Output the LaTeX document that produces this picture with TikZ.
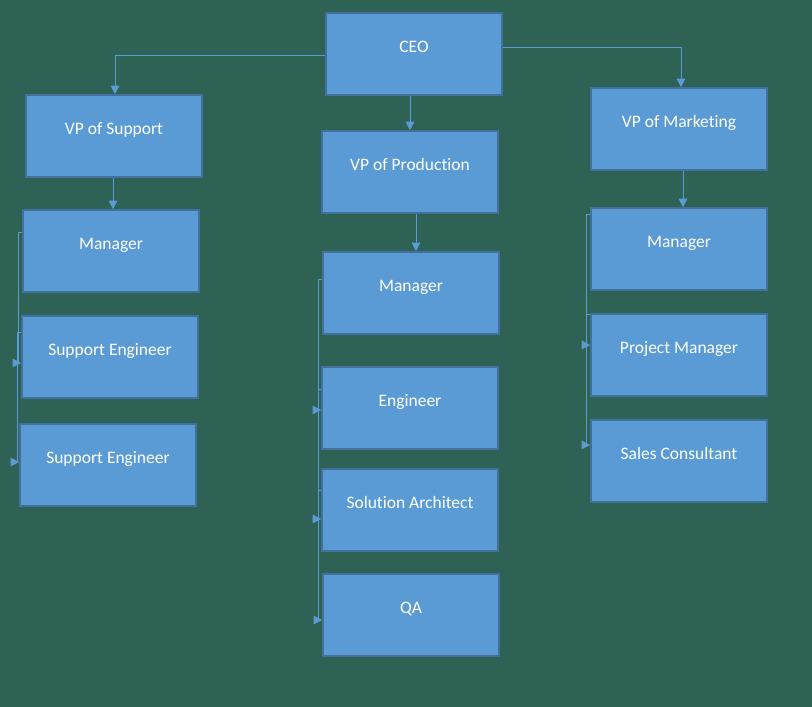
\documentclass[tikz,border=0pt]{standalone}
\usepackage{fontspec}
\setmainfont[Ligatures=NoCommon]{Carlito}
\usetikzlibrary{arrows.meta}
\definecolor{bg}{RGB}{46,98,84}
\definecolor{boxfill}{RGB}{91,155,213}
\definecolor{boxline}{RGB}{65,113,156}
\definecolor{conncol}{RGB}{91,155,213}
\tikzset{
  orgbox/.style={draw=boxline, line width=1.6pt, fill=boxfill, minimum width=176pt, minimum height=82pt, inner sep=0pt},
  lbl/.style={anchor=base, text=white, font=\fontsize{17.5}{20}\selectfont, inner sep=0pt},
  conn/.style={draw=conncol, line width=1pt, -{Triangle[length=8.5pt,width=8.5pt]}},
}
\newcommand{\boxlabel}[2]{\node[lbl] at ([yshift=-40.5pt]#1.north) {#2};}
\begin{document}
\begin{tikzpicture}[x=1pt,y=-1pt]
\fill[bg] (0,0) rectangle (812,707);
\useasboundingbox (0,0) rectangle (812,707);

\node[orgbox] (ceo) at (414,54) {};
\node[orgbox] (vps) at (114,136) {};
\node[orgbox] (vpp) at (410,172) {};
\node[orgbox] (vpm) at (679,129) {};
\node[orgbox] (lm)  at (111,251) {};
\node[orgbox] (se1) at (110,357) {};
\node[orgbox] (se2) at (108,465) {};
\node[orgbox] (mm)  at (411,293) {};
\node[orgbox] (en)  at (410,408) {};
\node[orgbox] (sa)  at (410,510) {};
\node[orgbox] (qa)  at (411,615) {};
\node[orgbox] (rm)  at (679,249) {};
\node[orgbox] (pm)  at (679,355) {};
\node[orgbox] (sc)  at (679,461) {};

\boxlabel{ceo}{CEO}
\boxlabel{vps}{VP of Support}
\boxlabel{vpp}{VP of Production}
\boxlabel{vpm}{VP of Marketing}
\boxlabel{lm}{Manager}
\boxlabel{se1}{Support Engineer}
\boxlabel{se2}{Support Engineer}
\boxlabel{mm}{Manager}
\boxlabel{en}{Engineer}
\boxlabel{sa}{Solution Architect}
\boxlabel{qa}{QA}
\boxlabel{rm}{Manager}
\boxlabel{pm}{Project Manager}
\boxlabel{sc}{Sales Consultant}

% top level
\draw[conn] ([yshift=-1pt]ceo.west) -| ([xshift=1pt]vps.north);
\draw[conn] ([yshift=7pt]ceo.east) -| ([xshift=2pt]vpm.north);
\draw[conn] (vpp.north |- ceo.south) -- (vpp.north);
% VP to managers
\draw[conn] ([xshift=-1pt]vps.south) -- ([xshift=-1pt]vps.south |- lm.north);
\draw[conn] ([xshift=6pt]vpp.south) -- ([xshift=6pt]vpp.south |- mm.north);
\draw[conn] ([xshift=4pt]vpm.south) -- ([xshift=4pt]vpm.south |- rm.north);

% left column
\draw[conn] ([yshift=19pt]lm.west) -- ++(-4,0) |- ([yshift=-6pt]se1.west);
\draw[conn] ([yshift=25pt]se1.west) -- ++(-4,0) |- ([yshift=3pt]se2.west);
% middle column
\draw[conn] ([yshift=14pt]mm.west) -- ++(-4,0) |- ([yshift=-2pt]en.west);
\draw[conn] ([yshift=19pt]en.west) -- ++(-3,0) |- ([yshift=-9pt]sa.west);
\draw[conn] ([yshift=20pt]sa.west) -- ++(-3,0) |- ([yshift=-5pt]qa.west);
% right column
\draw[conn] ([yshift=35pt]rm.west) -- ++(-4,0) |- ([yshift=10pt]pm.west);
\draw[conn] ([yshift=41pt]pm.west) -- ++(-4,0) |- ([yshift=16pt]sc.west);
\end{tikzpicture}
\end{document}
